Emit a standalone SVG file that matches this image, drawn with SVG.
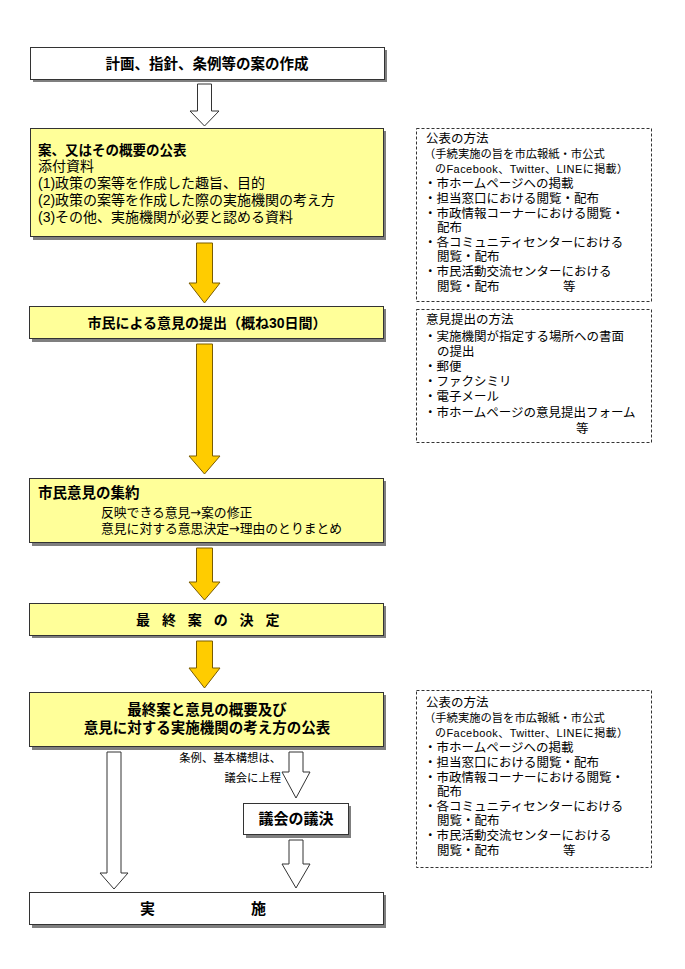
<svg xmlns="http://www.w3.org/2000/svg" width="685" height="969" viewBox="0 0 685 969">
<style>
text{font-family:"Liberation Sans","Noto Sans CJK JP","Noto Sans CJK SC",sans-serif;fill:#000}
.b{font-weight:bold;font-size:14.5px}
.n{font-size:14px}
.s{font-size:12.5px}
.xs{font-size:11.3px}
.xxs{font-size:11px}
.bold{font-weight:bold}
.arr{font-family:"DejaVu Sans",sans-serif}
.sh{fill:#7f7f7f}
.wb{fill:#fff;stroke:#333;stroke-width:1}
.yb{fill:#ffff99;stroke:#333;stroke-width:1}
.dash{fill:none;stroke:#333;stroke-width:1;stroke-dasharray:3 2}
.ya{fill:#ffcc00;stroke:#7a5c00;stroke-width:1}
.wa{fill:#fff;stroke:#333;stroke-width:1}
</style>
<rect width="685" height="969" fill="#fff"/>
<g id="connectors">
<polygon class="wa" points="197.5,84 211.5,84 211.5,111 219,111 204.5,126 190,111 197.5,111"/>
<polygon class="ya" points="196.5,243 212.5,243 212.5,283 220,283 204.5,303 189,283 196.5,283"/>
<polygon class="ya" points="196.5,344 212.5,344 212.5,456 220,456 204.5,474 189,456 196.5,456"/>
<polygon class="ya" points="196.5,548 212.5,548 212.5,582 220,582 204.5,600 189,582 196.5,582"/>
<polygon class="ya" points="196.5,641 212.5,641 212.5,668 220,668 204.5,688 189,668 196.5,668"/>
<polygon class="wa" points="107,752 121,752 121,873 128,873 114,889 100,873 107,873"/>
<polygon class="wa" points="289,752 303,752 303,772 310,772 296,798 282,772 289,772"/>
<polygon class="wa" points="289,840 303,840 303,864 310,864 296,888 282,864 289,864"/>
<text class="xs" text-anchor="end"><tspan x="281" y="762">条例、基本構想は、</tspan><tspan x="281" y="782">議会に上程</tspan></text>
</g>
<g id="n1">
<rect class="sh" x="33" y="50" width="354" height="32"/>
<rect class="wb" x="30.5" y="47.5" width="354" height="32"/>
<text class="b" x="207" y="69" text-anchor="middle">計画、指針、条例等の案の作成</text>
</g>
<g id="n2">
<rect class="sh" x="33" y="131" width="353" height="109"/>
<rect class="yb" x="30.5" y="128.5" width="353" height="108"/>
<text class="n"><tspan x="38" y="155" class="bold" style="font-size:13.5px">案、又はその概要の公表</tspan><tspan x="38" y="171">添付資料</tspan><tspan x="38" y="188">(1)政策の案等を作成した趣旨、目的</tspan><tspan x="38" y="205">(2)政策の案等を作成した際の実施機関の考え方</tspan><tspan x="38" y="222">(3)その他、実施機関が必要と認める資料</tspan></text>
</g>
<g id="n3">
<rect class="sh" x="32" y="309" width="354" height="33"/>
<rect class="yb" x="29.5" y="306.5" width="354" height="32"/>
<text class="b" x="207" y="328" text-anchor="middle" style="font-size:14px">市民による意見の提出（概ね30日間）</text>
</g>
<g id="n4">
<rect class="sh" x="32" y="481" width="354" height="65"/>
<rect class="yb" x="29.5" y="478.5" width="354" height="64"/>
<text style="font-size:12.8px"><tspan x="38" y="498" class="bold" style="font-size:14.5px">市民意見の集約</tspan><tspan x="101" y="517">反映できる意見<tspan class="arr">→</tspan>案の修正</tspan><tspan x="101" y="533">意見に対する意思決定<tspan class="arr">→</tspan>理由のとりまとめ</tspan></text>
</g>
<g id="n5">
<rect class="sh" x="32" y="606" width="354" height="32"/>
<rect class="yb" x="29.5" y="603.5" width="354" height="32"/>
<text class="b" x="136" y="625" style="font-size:14px;letter-spacing:4px">最 終 案 の 決 定</text>
</g>
<g id="n6">
<rect class="sh" x="32" y="695" width="354" height="55"/>
<rect class="yb" x="29.5" y="692.5" width="354" height="54"/>
<text class="b" text-anchor="middle"><tspan x="207" y="715">最終案と意見の概要及び</tspan><tspan x="207" y="733">意見に対する実施機関の考え方の公表</tspan></text>
</g>
<g id="n7">
<rect class="sh" x="246" y="806" width="105" height="32"/>
<rect class="wb" x="243.5" y="803.5" width="105" height="31"/>
<text class="b" x="296" y="824" text-anchor="middle" style="font-size:15px">議会の議決</text>
</g>
<g id="n8">
<rect class="sh" x="32" y="895" width="354" height="33"/>
<rect class="wb" x="29.5" y="892.5" width="354" height="32"/>
<text class="b" y="914" style="font-size:15px"><tspan x="140">実</tspan> <tspan x="251">施</tspan></text>
</g>
<g id="note1">
<rect class="dash" x="416.5" y="128.5" width="235" height="173"/>
<text class="s"><tspan x="426" y="143">公表の方法</tspan><tspan x="424" y="158" class="xs">（手続実施の旨を市広報紙・市公式</tspan><tspan x="435" y="173" class="xxs" textLength="193" lengthAdjust="spacing">のFacebook、Twitter、LINEに掲載）</tspan><tspan x="424" y="188">・市ホームページへの掲載</tspan><tspan x="424" y="203">・担当窓口における閲覧・配布</tspan><tspan x="424" y="218">・市政情報コーナーにおける閲覧・</tspan><tspan x="437" y="232">配布</tspan><tspan x="424" y="247">・各コミュニティセンターにおける</tspan><tspan x="437" y="261">閲覧・配布</tspan><tspan x="424" y="276">・市民活動交流センターにおける</tspan><tspan x="437" y="291">閲覧・配布</tspan><tspan x="563" y="291">等</tspan></text>
</g>
<g id="note2">
<rect class="dash" x="416.5" y="309.5" width="235" height="133"/>
<text class="s"><tspan x="426" y="324">意見提出の方法</tspan><tspan x="424" y="341">・実施機関が指定する場所への書面</tspan><tspan x="437" y="356">の提出</tspan><tspan x="424" y="371">・郵便</tspan><tspan x="424" y="386">・ファクシミリ</tspan><tspan x="424" y="401">・電子メール</tspan><tspan x="424" y="417">・市ホームページの意見提出フォーム</tspan><tspan x="576" y="433">等</tspan></text>
</g>
<g id="note3">
<rect class="dash" x="416.5" y="690.5" width="235" height="177"/>
<text class="s"><tspan x="426" y="707">公表の方法</tspan><tspan x="424" y="722" class="xs">（手続実施の旨を市広報紙・市公式</tspan><tspan x="435" y="737" class="xxs" textLength="193" lengthAdjust="spacing">のFacebook、Twitter、LINEに掲載）</tspan><tspan x="424" y="752">・市ホームページへの掲載</tspan><tspan x="424" y="767">・担当窓口における閲覧・配布</tspan><tspan x="424" y="782">・市政情報コーナーにおける閲覧・</tspan><tspan x="437" y="796">配布</tspan><tspan x="424" y="811">・各コミュニティセンターにおける</tspan><tspan x="437" y="825">閲覧・配布</tspan><tspan x="424" y="840">・市民活動交流センターにおける</tspan><tspan x="437" y="855">閲覧・配布</tspan><tspan x="563" y="855">等</tspan></text>
</g>
</svg>
